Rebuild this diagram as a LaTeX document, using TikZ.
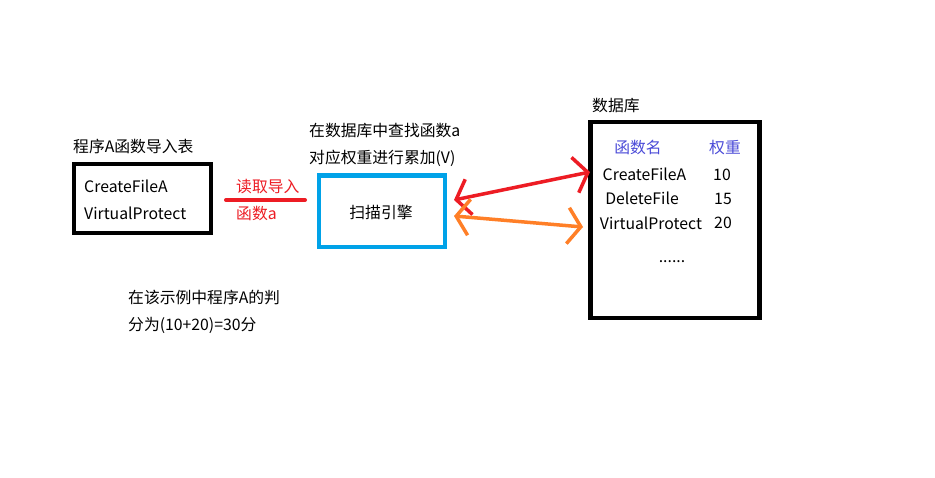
\documentclass[tikz,border=0pt]{standalone}
\usepackage{fontspec}
\setmainfont{Noto Sans CJK SC}
\usetikzlibrary{arrows.meta}
\definecolor{pred}{HTML}{ED1C24}
\definecolor{porange}{HTML}{FF7F27}
\definecolor{pblue}{HTML}{00A2E8}
\definecolor{phead}{HTML}{4B4BD8}
\tikzset{
  txt/.style={inner sep=0pt,font=\fontsize{15.8}{19}\selectfont,anchor=west},
  ctxt/.style={inner sep=0pt,font=\fontsize{15.8}{19}\selectfont,anchor=center},
  thickbox/.style={line width=4.5pt},
  barb/.style={line width=3.5pt,{Straight Barb[length=13pt,width=36pt,line width=3.5pt]}-{Straight Barb[length=13pt,width=36pt,line width=3.5pt]}}
}
\begin{document}
\begin{tikzpicture}[x=1pt,y=-1pt]
\fill[white] (0,0) rectangle (935,478);
\useasboundingbox (0,0) rectangle (935,478);
% left table
\node[txt] (ltitle) at (73,146) {程序A函数导入表};
\draw[thickbox] (74,164) rectangle (211,233);
\node[txt] (l1) at (84,186) {CreateFileA};
\node[txt] (l2) at (84,213) {VirtualProtect};
% red line and label
\coordinate (ra) at (226,200);
\coordinate (rb) at (305,200);
\draw[pred,line width=4pt,line cap=round] (ra) -- (rb);
\node[txt,text=pred] (rl1) at (236,187) {读取导入};
\node[txt,text=pred] (rl2) at (236,214) {函数a};
% scan engine
\node[txt] (s1) at (309,131) {在数据库中查找函数a};
\node[txt] (s2) at (309,158) {对应权重进行累加(V)};
\draw[pblue,line width=4.5pt] (319,175.5) rectangle (445,247);
\node[ctxt] (eng) at (381,212) {扫描引擎};
% database
\node[txt] (dbt) at (592,106) {数据库};
\draw[thickbox] (590.5,122) rectangle (759.5,318);
\node[ctxt,text=phead] (h1) at (638,147.5) {函数名};
\node[ctxt,text=phead] (h2) at (725,147.5) {权重};
\node[ctxt] (d1) at (644.5,174.5) {CreateFileA};
\node[ctxt] (w1) at (722,174.5) {10};
\node[ctxt] (d2) at (642,198.5) {DeleteFile};
\node[ctxt] (w2) at (723,198.5) {15};
\node[ctxt] (d3) at (651,223) {VirtualProtect};
\node[ctxt] (w3) at (723,223) {20};
\node[ctxt] (dots) at (672,262) {......};
% arrows
\coordinate (a1) at (454,200);
\coordinate (a2) at (590,172);
\coordinate (b1) at (454,216);
\coordinate (b2) at (583,227);
\draw[pred,barb] (a1) -- (a2);
\draw[porange,barb] (b1) -- (b2);
% note
\node[txt] (n1) at (128,298) {在该示例中程序A的判};
\node[txt] (n2) at (128,325) {分为(10+20)=30分};
\end{tikzpicture}
\end{document}
